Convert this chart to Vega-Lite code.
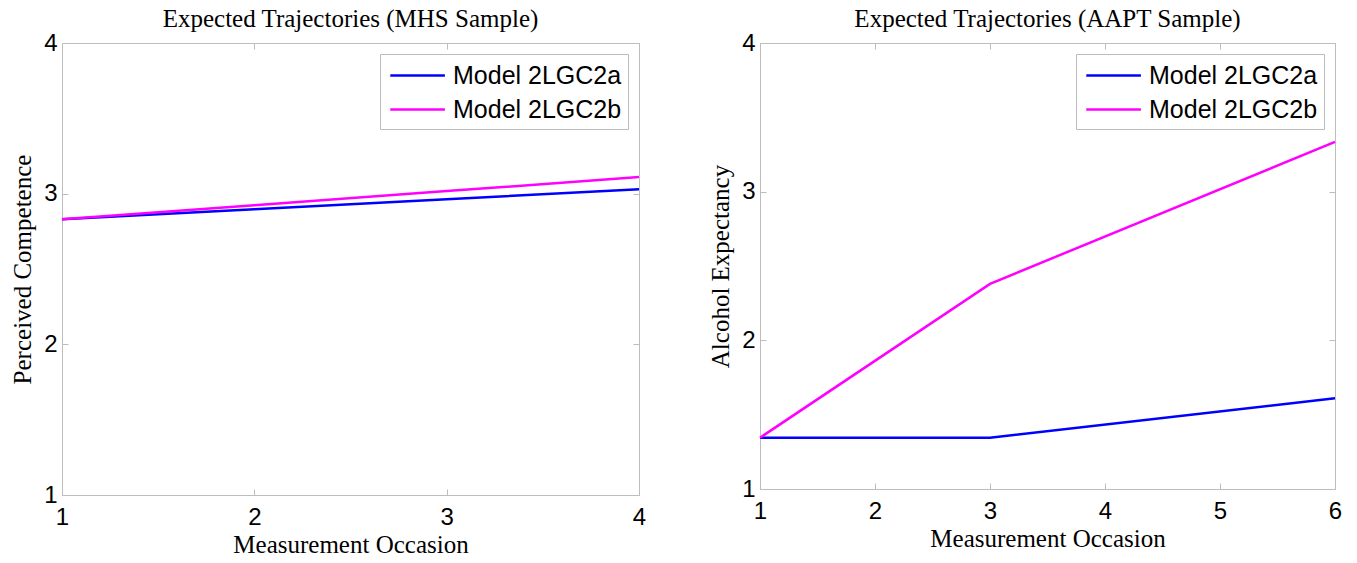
{
  "$schema": "https://vega.github.io/schema/vega-lite/v6.json",
  "padding": {"left": 10, "top": 6, "right": 10, "bottom": 2},
  "background": "white",
  "config": {
    "view": {"stroke": "#bdbdbd", "strokeWidth": 1},
    "axis": {
      "domain": false, "grid": false, "labelFlush": false,
      "tickColor": "#bdbdbd", "tickSize": -6, "tickWidth": 1,
      "labelFont": "Liberation Sans", "labelFontSize": 24, "labelColor": "black",
      "titleFont": "Liberation Serif", "titleFontSize": 25, "titleFontWeight": "normal", "titleColor": "black"
    },
    "axisX": {"labelPadding": 16, "titlePadding": 3, "labelFlush": false},
    "axisY": {"labelPadding": 11, "titlePadding": 8, "labelFlush": false},
    "title": {"font": "Liberation Serif", "fontSize": 25, "fontWeight": "normal", "color": "black", "offset": -1},
    "legend": {
      "orient": "top-right", "offset": 11,
      "strokeColor": "#bdbdbd", "fillColor": "white", "padding": 6,
      "labelFont": "Liberation Sans", "labelFontSize": 25, "labelColor": "black", "labelLimit": 0,
      "symbolType": "M-0.8,0H3.1", "symbolSize": 784, "symbolStrokeWidth": 3,
      "rowPadding": 5, "labelOffset": 36
    },
    "line": {"strokeWidth": 2.5}
  },
  "hconcat": [
    {
      "title": "Expected Trajectories (MHS Sample)",
      "width": 577, "height": 452,
      "data": {"values": [
        {"occasion": 1, "value": 2.83, "model": "Model 2LGC2a"},
        {"occasion": 2, "value": 2.897, "model": "Model 2LGC2a"},
        {"occasion": 3, "value": 2.963, "model": "Model 2LGC2a"},
        {"occasion": 4, "value": 3.03, "model": "Model 2LGC2a"},
        {"occasion": 1, "value": 2.83, "model": "Model 2LGC2b"},
        {"occasion": 2, "value": 2.923, "model": "Model 2LGC2b"},
        {"occasion": 3, "value": 3.017, "model": "Model 2LGC2b"},
        {"occasion": 4, "value": 3.11, "model": "Model 2LGC2b"}
      ]},
      "layer": [
        {
          "mark": "line",
          "encoding": {
            "x": {"field": "occasion", "type": "quantitative", "scale": {"domain": [1, 4], "nice": false},
                  "axis": {"values": [1, 2, 3, 4], "title": "Measurement Occasion"}},
            "y": {"field": "value", "type": "quantitative", "scale": {"domain": [1, 4], "nice": false},
                  "axis": {"values": [1, 2, 3, 4], "title": "Perceived Competence"}},
            "color": {"field": "model", "type": "nominal",
                      "scale": {"domain": ["Model 2LGC2a", "Model 2LGC2b"], "range": ["#0000ff", "#ff00ff"]},
                      "legend": {"title": null}}
          }
        },
        {
          "mark": {"type": "line", "opacity": 0},
          "encoding": {
            "x": {"field": "occasion", "type": "quantitative", "axis": {"orient": "top", "values": [1, 2, 3, 4], "labels": false, "title": null}},
            "y": {"field": "value", "type": "quantitative", "axis": {"orient": "right", "values": [1, 2, 3, 4], "labels": false, "title": null}}
          }
        }
      ],
      "resolve": {"axis": {"x": "independent", "y": "independent"}}
    },
    {
      "title": "Expected Trajectories (AAPT Sample)",
      "width": 575, "height": 446,
      "data": {"values": [
        {"occasion": 1, "value": 1.345, "model": "Model 2LGC2a"},
        {"occasion": 3, "value": 1.345, "model": "Model 2LGC2a"},
        {"occasion": 6, "value": 1.61, "model": "Model 2LGC2a"},
        {"occasion": 1, "value": 1.345, "model": "Model 2LGC2b"},
        {"occasion": 3, "value": 2.38, "model": "Model 2LGC2b"},
        {"occasion": 6, "value": 3.335, "model": "Model 2LGC2b"}
      ]},
      "layer": [
        {
          "mark": "line",
          "encoding": {
            "x": {"field": "occasion", "type": "quantitative", "scale": {"domain": [1, 6], "nice": false},
                  "axis": {"values": [1, 2, 3, 4, 5, 6], "title": "Measurement Occasion"}},
            "y": {"field": "value", "type": "quantitative", "scale": {"domain": [1, 4], "nice": false},
                  "axis": {"values": [1, 2, 3, 4], "title": "Alcohol Expectancy"}},
            "color": {"field": "model", "type": "nominal",
                      "scale": {"domain": ["Model 2LGC2a", "Model 2LGC2b"], "range": ["#0000ff", "#ff00ff"]},
                      "legend": {"title": null}}
          }
        },
        {
          "mark": {"type": "line", "opacity": 0},
          "encoding": {
            "x": {"field": "occasion", "type": "quantitative", "axis": {"orient": "top", "values": [1, 2, 3, 4, 5, 6], "labels": false, "title": null}},
            "y": {"field": "value", "type": "quantitative", "axis": {"orient": "right", "values": [1, 2, 3, 4], "labels": false, "title": null}}
          }
        }
      ],
      "resolve": {"axis": {"x": "independent", "y": "independent"}}
    }
  ],
  "spacing": 61,
  "resolve": {"scale": {"color": "independent"}, "legend": {"color": "independent"}}
}
